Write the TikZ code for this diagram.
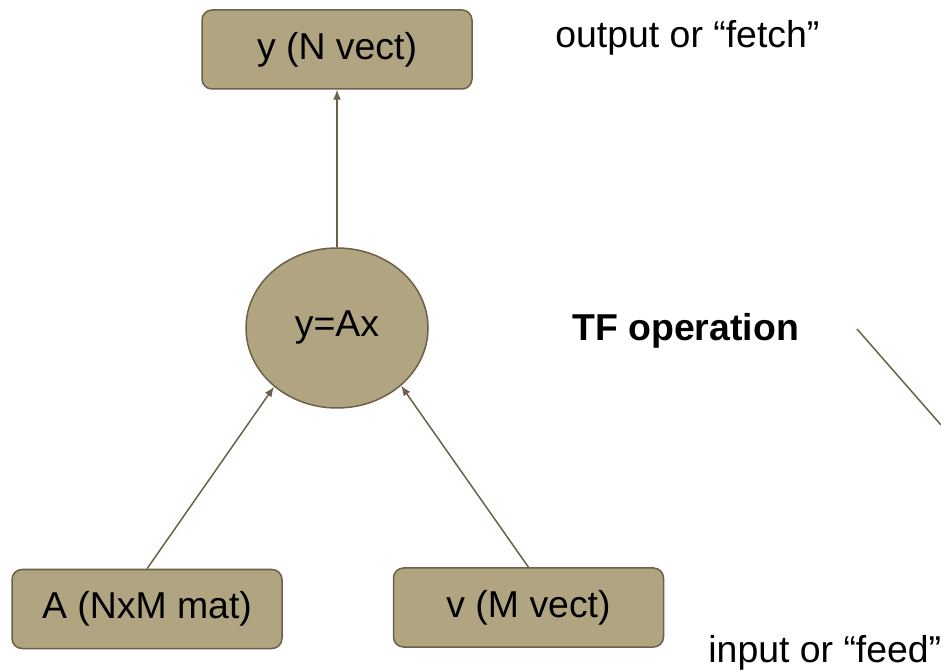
\documentclass[tikz,border=0pt]{standalone}
\usepackage{fontspec}
\setmainfont{Liberation Sans}
\usetikzlibrary{arrows.meta,shapes.geometric}
\definecolor{NodeClr}{RGB}{176,165,128}
\definecolor{EdgeClr}{RGB}{108,96,72}

\begin{document}
\begin{tikzpicture}[x=0.5pt,y=-0.5pt,
  every node/.style={font=\fontsize{18.7}{22}\selectfont},
  tensor/.style={draw=EdgeClr,fill=NodeClr,line width=0.75pt,rounded corners=5pt,
    minimum width=135pt,minimum height=39.5pt},
  op/.style={ellipse,draw=EdgeClr,fill=NodeClr,line width=0.75pt,
    minimum width=91pt,minimum height=80pt},
  flow/.style={draw=EdgeClr,line width=0.75pt,-{Latex[length=5pt,width=4pt]}},
  note/.style={anchor=base west,inner sep=0pt}]
\useasboundingbox (0,0) rectangle (941,672);

\node[tensor] (y) at (337,49.5) {y (N vect)};
\node[op] (op) at (337,328) {y=Ax};
\node[tensor] (A) at (147,609) {A (NxM mat)};
\node[tensor] (v) at (528.5,607.5) {v (M vect)};

\draw[flow] (op.north) -- (y.south);
\draw[flow] (A.north) -- (op.223);
\draw[flow] (v.north) -- (op.318);

\node[note] (fetch) at (555,48) {output or “fetch”};
\node[note,font=\fontsize{18.7}{22}\selectfont\bfseries] (tfop) at (572,341) {TF operation};
\node[note] (feed) at (708,662) {input or “feed”};

\coordinate (p1) at (857,329);
\coordinate (p2) at (941,425);
\draw[EdgeClr,line width=0.75pt] (p1) -- (p2);

\end{tikzpicture}
\end{document}
